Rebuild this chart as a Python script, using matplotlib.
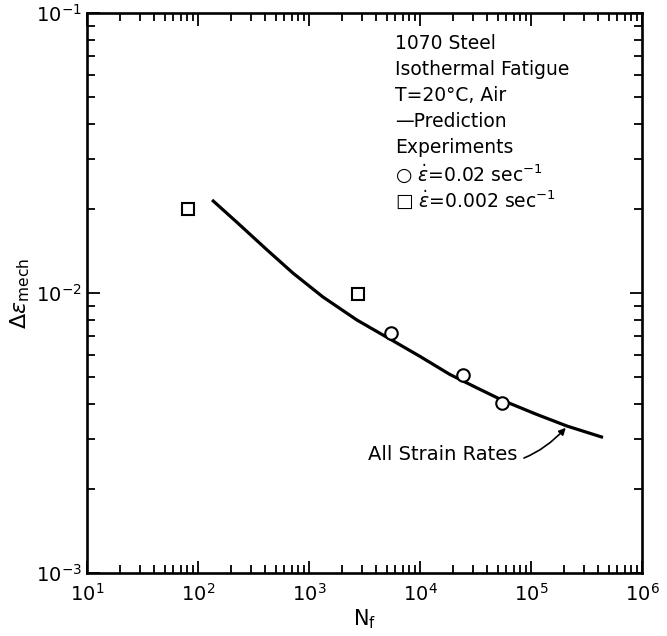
import numpy as np
import matplotlib.pyplot as plt
from matplotlib.ticker import LogLocator, NullFormatter

# prediction curve (cycles to failure vs mechanical strain range)
pred_N = [134, 224, 419, 718, 1337, 2705, 5370, 10000, 18600, 32000, 56000,
          110000, 211000, 446000]
pred_eps = [0.0215, 0.0179, 0.01426, 0.01178, 0.00968, 0.00801, 0.00685,
            0.00594, 0.00512, 0.00460, 0.00413, 0.00370, 0.00335, 0.00305]

# experiments, strain rate 0.02 /sec
circ_N = [5480, 24400, 54800]
circ_eps = [0.0072, 0.0051, 0.00405]

# experiments, strain rate 0.002 /sec
sq_N = [81, 2760]
sq_eps = [0.020, 0.0099]

legend_lines = [
    "1070 Steel",
    "Isothermal Fatigue",
    "T=20°C, Air",
    "\u2014Prediction",
    "Experiments",
    "\u25cb $\\dot{\\epsilon}$=0.02 sec$^{-1}$",
    "\u25a1 $\\dot{\\epsilon}$=0.002 sec$^{-1}$",
]

plt.rcParams['font.family'] = ['DejaVu Sans']
plt.rcParams['mathtext.fontset'] = 'dejavusans'

fig = plt.figure(figsize=(6.67, 6.36), dpi=100)
ax = fig.add_axes([0.1304, 0.099, 0.832, 0.8805])

ax.plot(pred_N, pred_eps, color='black', lw=2.3, solid_capstyle='butt',
        solid_joinstyle='round')
ax.plot(circ_N, circ_eps, 'o', ms=9, mfc='white', mec='black', mew=1.5)
ax.plot(sq_N, sq_eps, 's', ms=9, mfc='white', mec='black', mew=1.5)

ax.set_xscale('log')
ax.set_yscale('log')
ax.set_xlim(10, 1e6)
ax.set_ylim(1e-3, 1e-1)

ax.xaxis.set_major_locator(LogLocator(base=10, numticks=10))
ax.yaxis.set_major_locator(LogLocator(base=10, numticks=10))
ax.xaxis.set_minor_locator(LogLocator(base=10, subs=np.arange(2, 10), numticks=20))
ax.yaxis.set_minor_locator(LogLocator(base=10, subs=np.arange(2, 10), numticks=20))
ax.xaxis.set_minor_formatter(NullFormatter())
ax.yaxis.set_minor_formatter(NullFormatter())

ax.tick_params(which='both', direction='in', top=True, right=True,
               width=1.3, labelsize=14, colors='black')
ax.tick_params(which='major', length=9)
ax.tick_params(which='minor', length=5.5)
ax.tick_params(axis='x', pad=7)
for s in ax.spines.values():
    s.set_linewidth(1.9)

ax.set_xlabel("N$_\\mathrm{f}$", fontsize=15, labelpad=2)
ax.set_ylabel("$\\Delta\\epsilon_{\\mathrm{mech}}$", fontsize=16, labelpad=3)

# legend block in the upper right
for i, line in enumerate(legend_lines):
    ax.text(0.555, 0.946 - i * 0.0465, line, transform=ax.transAxes,
            fontsize=13.5, ha='left', va='center')

ax.annotate("All Strain Rates", xy=(2.1e5, 0.00333), xytext=(1.6e4, 0.00264),
            fontsize=14, ha='center', va='center',
            arrowprops=dict(arrowstyle='-|>', color='black', lw=1.2,
                            mutation_scale=10, shrinkA=3, shrinkB=1,
                            connectionstyle='arc3,rad=0.35'))

fig.savefig('out.png', dpi=100)
